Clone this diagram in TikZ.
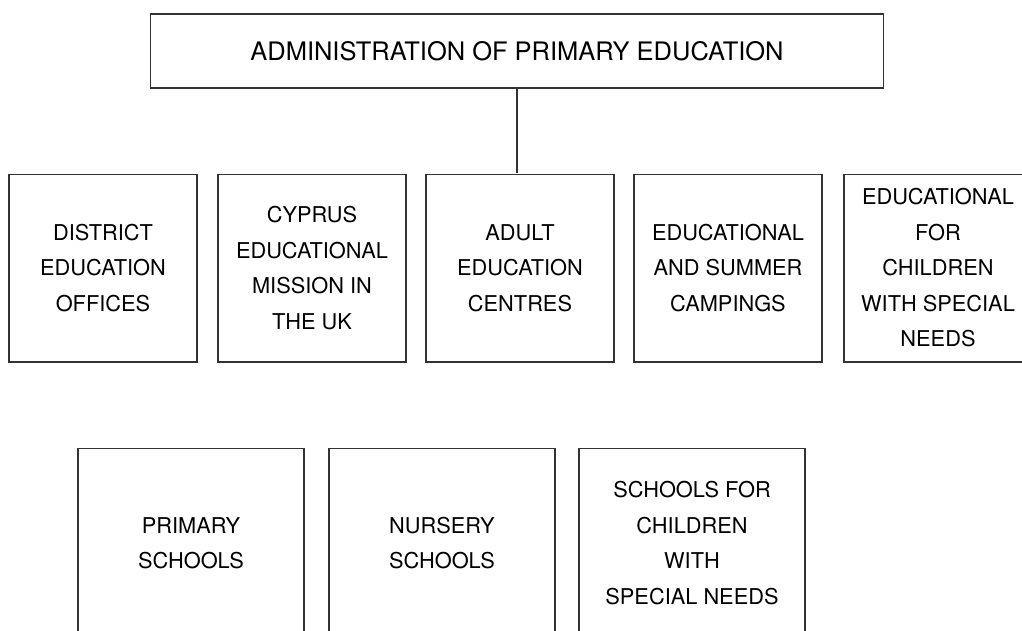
\documentclass[tikz,border=0pt]{standalone}
\usepackage{fontspec}
\setmainfont{TeX Gyre Heros}
\usepackage{tikz}
\tikzstyle{unit}=[rectangle, draw=black!80, line width=.6pt, align=center, inner sep=0pt, font=\fontsize{12.4}{20.2}\selectfont]
\tikzstyle{office}=[unit, minimum width=3.76cm, minimum height=3.76cm]
\tikzstyle{school}=[unit, minimum width=4.52cm, minimum height=3.8cm]
\tikzstyle{head}=[unit, minimum width=14.68cm, minimum height=1.48cm, font=\fontsize{14.5}{16}\selectfont]
\begin{document}
\begin{tikzpicture}[x=0.02cm, y=-0.02cm]
    % page frame, boxes running off the edge are cut
    \useasboundingbox (0,0) rectangle (1022,630);
    \clip (0,0) rectangle (1022,630);

    % the administration on top
    \node[head] (admin) at (517,51) {ADMINISTRATION OF PRIMARY EDUCATION};

    % first row of offices, using a loop
    \foreach \name/\x/\txt in {district/103/{DISTRICT\\EDUCATION\\OFFICES},
        mission/312/{CYPRUS\\EDUCATIONAL\\MISSION IN\\THE UK},
        adult/520/{ADULT\\EDUCATION\\CENTRES},
        camping/728/{EDUCATIONAL\\AND SUMMER\\CAMPINGS},
        special/938/{EDUCATIONAL\\FOR\\CHILDREN\\WITH SPECIAL\\NEEDS}}{
      \node[office] (\name) at (\x,268) {\txt};
    }

    % schools
    \foreach \name/\x/\txt in {primary/191/{PRIMARY\\SCHOOLS},
        nursery/442/{NURSERY\\SCHOOLS},
        sns/692/{SCHOOLS FOR\\CHILDREN\\WITH\\SPECIAL NEEDS}}{
      \node[school] (\name) at (\x,543) {\txt};
    }

    % link down from the head
    \draw[line width=.6pt, draw=black!80] (admin.south) -- (admin.south |- adult.north);
\end{tikzpicture}
\end{document}
